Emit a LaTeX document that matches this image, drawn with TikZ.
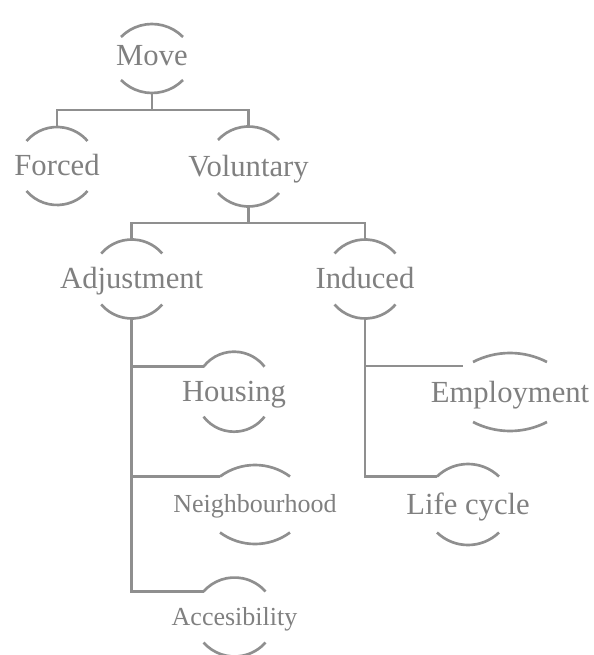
\documentclass[tikz,border=0pt]{standalone}
\usepackage{fontspec}
\setmainfont{Liberation Serif}
\usetikzlibrary{calc}
\definecolor{textgray}{gray}{0.5}
\definecolor{linegray}{gray}{0.56}
% #1 node, #2 half width, #3 sag, #4 distance of the apex from the centre
\newcommand\caparcs[4]{%
  \pgfmathsetmacro\arcrad{(#2*#2+#3*#3)/(2*#3)}
  \pgfmathsetmacro\arcang{asin(#2/\arcrad)}
  \draw[arcline] ($(#1.center)+(-#2,#4-#3)$) coordinate (#1-tl)
    arc[start angle=90+\arcang, end angle=90-\arcang, radius=\arcrad];
  \draw[arcline] ($(#1.center)+(-#2,-#4+#3)$)
    arc[start angle=270-\arcang, end angle=270+\arcang, radius=\arcrad];
  \coordinate (#1-t) at ($(#1.center)+(0,#4)$);
  \coordinate (#1-b) at ($(#1.center)+(0,-#4)$);
}
\begin{document}
\begin{tikzpicture}[x=0.75pt,y=0.75pt]
  \tikzstyle{every node}=[text=textgray, inner sep=0pt, font=\fontsize{23}{27}\selectfont, text height=16.5pt, text depth=1.5pt]
  \tikzstyle{small}=[font=\fontsize{19.5}{23}\selectfont, text height=14pt, text depth=1.4pt]
  \tikzstyle{edge}=[linegray, line width=2.2pt]
  \tikzstyle{arcline}=[linegray, line width=2pt]
  \useasboundingbox (0,0) rectangle (593,-655);

  \node[text depth=6.5pt] (move) at (152,-58.5) {Move};
  \node (forced) at (57,-166) {Forced};
  \node (voluntary) at (248.5,-166.5) {Voluntary};
  \node (adjustment) at (131.7,-279) {Adjustment};
  \node (induced) at (365,-279) {Induced};
  \node (housing) at (234,-391.7) {Housing};
  \node (employment) at (510,-392) {Employment};
  \node[small] (neighbourhood) at (255,-504.5) {Neighbourhood};
  \node (lifecycle) at (468,-504.5) {Life cycle};
  \node[small] (accesibility) at (234.5,-617) {Accesibility};

  \caparcs{move}{31}{13}{34.5}
  \caparcs{forced}{30.5}{14}{39}
  \caparcs{voluntary}{30.5}{13.5}{40}
  \caparcs{adjustment}{30.5}{14}{39.5}
  \caparcs{induced}{30.5}{14}{39.5}
  \caparcs{housing}{30.5}{15}{40}
  \caparcs{employment}{37}{9}{39}
  \caparcs{neighbourhood}{35}{11.5}{39.5}
  \caparcs{lifecycle}{31}{12.5}{40.5}
  \caparcs{accesibility}{31}{14}{39.5}

  \coordinate (split1) at ($(move-b)!.5!(move-b |- forced-t)$);
  \coordinate (split2) at ($(voluntary-b)!.5!(voluntary-b |- adjustment-t)$);

  \draw[edge] (move-b) -- (split1) -| (forced-t);
  \draw[edge] (split1) -| (voluntary-t);
  \draw[edge] (voluntary-b) -- (split2) -| (adjustment-t);
  \draw[edge] (split2) -| (induced-t);

  \draw[edge] (adjustment-b) |- (housing-tl);
  \draw[edge] (adjustment-b) |- (neighbourhood-tl);
  \draw[edge] (adjustment-b) |- (accesibility-tl);
  \draw[edge] (induced-b) |- ($(employment-tl)+(-10,-4)$);
  \draw[edge] (induced-b) |- (lifecycle-tl);
\end{tikzpicture}
\end{document}
